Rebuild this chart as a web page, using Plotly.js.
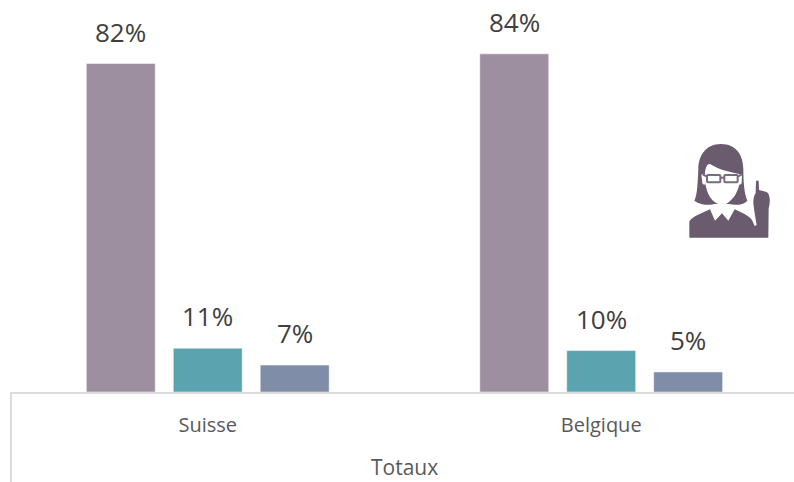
<!DOCTYPE html>
<html><head><meta charset="utf-8">
<script src="https://cdn.plot.ly/plotly-3.0.1.min.js"></script>
<style>html,body{margin:0;padding:0;background:#fff;overflow:hidden}</style></head>
<body><div id="chart" style="width:794px;height:482px"></div>
<script>
const categories = ["Suisse", "Belgique"];
const seriesA = [81.7, 84.1];
const seriesB = [10.9, 10.3];
const seriesC = [6.7, 5.0];
const labelsA = ["82%", "84%"];
const labelsB = ["11%", "10%"];
const labelsC = ["7%", "5%"];
const colors = ["#9e8fa0", "#5ba3af", "#7f8da8"];
const groupTitle = "Totaux";

const icon = `<svg xmlns="http://www.w3.org/2000/svg" viewBox="0 0 360 360" width="360" height="360">
<path fill="#6a5b6f" d="M183 42 C135 42 115 80 115 118 C113 160 112 195 103 212 C122 226 150 226 164 222 L206 222 C225 226 250 226 262 212 C252 190 250 150 250 118 C250 75 228 42 183 42Z"/>
<path fill="#fff" d="M135 125 C138 110 142 100 150 102 C175 118 205 125 240 133 C243 150 238 175 224 198 C212 213 198 225 187 225 C172 225 155 212 147 196 C138 178 132 150 135 125Z"/>
<path fill="#fff" d="M124 134 C132 130 138 136 138 150 C138 165 132 168 127 160Z M246 134 C240 130 234 136 234 150 C234 165 240 168 245 160Z"/>
<g fill="none" stroke="#7a6c7e" stroke-width="6"><rect x="141" y="135" width="40" height="22" rx="3"/><rect x="193" y="135" width="40" height="22" rx="3"/><path d="M181 143 L193 143 M141 140 L128 133 M233 140 L246 133"/></g>
<path fill="#6a5b6f" d="M88 323 L88 275 C92 262 125 250 150 238 L165 272 L186 250 L205 272 L224 238 C245 248 268 258 276 270 L284 288 L290 285 C286 262 283 245 282 235 C278 215 280 200 287 190 L288 152 L296 152 L297 180 L320 186 C330 192 332 215 326 235 L325 323Z"/>
</svg>`;

const traces = [[seriesA, colors[0]], [seriesB, colors[1]], [seriesC, colors[2]]].map(([y, c]) => ({
  type: "bar", x: categories, y: y, marker: {color: c, line: {color: "rgba(255,255,255,0.5)", width: 1}},
  hoverinfo: "skip", showlegend: false
}));

const annotations = [];
[[seriesA, labelsA, -87], [seriesB, labelsB, 0], [seriesC, labelsC, 87]].forEach(([vals, labs, dx]) => {
  vals.forEach((v, i) => annotations.push({
    x: categories[i], y: v, xref: "x", yref: "y", text: labs[i], showarrow: false,
    xshift: dx, yshift: 12, yanchor: "bottom", font: {family: "Open Sans, sans-serif", size: 26, color: "#404040"}
  }));
});
annotations.push({
  x: (404.5-11)/783, y: -(467-392)/392, xref: "paper", yref: "paper", text: groupTitle, showarrow: false,
  xanchor: "center", yanchor: "middle", borderpad: 0,
  font: {family: "Open Sans, sans-serif", size: 21, color: "#595959"}
});

const layout = {
  width: 794, height: 482, paper_bgcolor: "#fff", plot_bgcolor: "#fff",
  margin: {l: 11, r: 0, t: 0, b: 90, pad: 0},
  barmode: "group", bargap: 0.337, bargroupgap: 0.207,
  xaxis: {
    type: "category", range: [-0.5, 1.49], fixedrange: true, showgrid: false, zeroline: false,
    showline: true, linecolor: "#dcdcdc", linewidth: 2,
    ticks: "outside", ticklen: 14, tickcolor: "rgba(0,0,0,0)",
    tickfont: {family: "Open Sans, sans-serif", size: 20, color: "#595959"}
  },
  yaxis: {range: [0, 97.5], visible: false, fixedrange: true},
  annotations: annotations,
  shapes: [{type: "line", xref: "paper", yref: "paper", x0: 0, x1: 0, y0: 0, y1: -90/392, line: {color: "#dcdcdc", width: 2}}],
  images: [{source: "data:image/svg+xml;utf8," + encodeURIComponent(icon), xref: "paper", yref: "paper",
    x: (660-11)/783, y: (392-130)/392, sizex: 120/783, sizey: 120/392, xanchor: "left", yanchor: "top", sizing: "stretch", layer: "above"}]
};
Plotly.newPlot("chart", traces, layout, {displayModeBar: false, staticPlot: true});
</script></body></html>
